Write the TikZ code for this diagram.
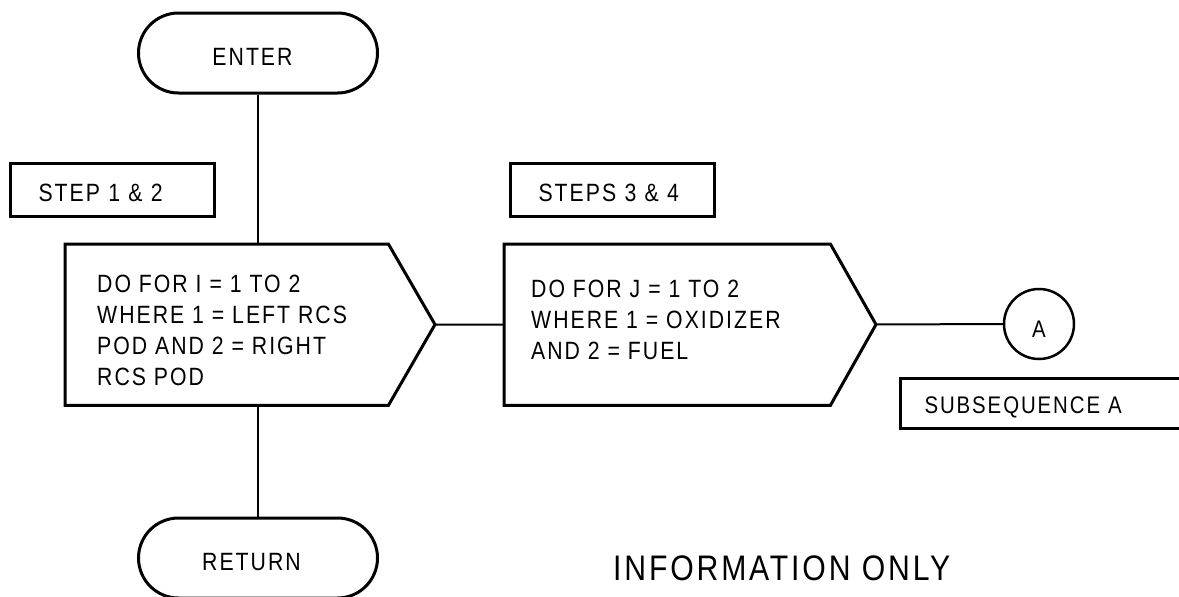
\documentclass[tikz,border=0pt]{standalone}
\usepackage{fontspec}
\setmainfont{Liberation Sans}[FakeStretch=0.85, LetterSpace=8]
\begin{document}
\begin{tikzpicture}[x=1pt,y=-1pt,
  shapeline/.style={line width=3pt},
  conn/.style={line width=2pt},
  term/.style={draw, shapeline, rounded corners=40pt, minimum width=239pt, minimum height=80pt,
    inner sep=0pt, font=\fontsize{25}{30}\selectfont, text height=24pt, text depth=0pt},
  labelbox/.style={draw, shapeline, anchor=north west, inner xsep=28pt, inner ysep=0pt,
    minimum height=53pt, text width=148pt, align=left,
    font=\fontsize{25}{30}\selectfont, text height=23pt, text depth=0pt},
  bodytext/.style={anchor=north west, align=left, inner sep=0pt, font=\fontsize{25}{31}\selectfont},
  pentabody/.style={inner sep=0pt, anchor=north west, minimum height=161pt}
]
\useasboundingbox (0,0) rectangle (1179,597);

% terminals
\node[term] (enter) at (258,53) {\hspace*{-11pt}ENTER};
\node[term] (ret) at (258,558) {\hspace*{-13pt}RETURN};

% step label boxes
\node[labelbox] (s12) at (9,162) {STEP 1 \& 2};
\node[labelbox] (s34) at (509,162) {STEPS 3 \& 4};

% pentagon 1
\node[pentabody, minimum width=323pt] (p1) at (65,244) {};
\coordinate (p1tip) at (435,324.5);
\draw[shapeline, line join=miter] (p1.north west) -- (p1.north east) -- (p1tip) -- (p1.south east) -- (p1.south west) -- cycle;
\node[bodytext] (t1) at (97,275) {DO FOR I = 1 TO 2\\WHERE 1 = LEFT RCS\\POD AND 2 = RIGHT\\RCS POD};

% pentagon 2
\node[pentabody, minimum width=326pt] (p2) at (504,244) {};
\coordinate (p2tip) at (876,324.5);
\draw[shapeline, line join=miter] (p2.north west) -- (p2.north east) -- (p2tip) -- (p2.south east) -- (p2.south west) -- cycle;
\node[bodytext] (t2) at (531,280) {DO FOR J = 1 TO 2\\WHERE 1 = OXIDIZER\\AND 2 = FUEL};

% connector circle
\node[draw, circle, line width=2.5pt, minimum size=70pt, inner sep=0pt,
  font=\fontsize{24}{28}\selectfont, text height=26pt, text depth=0pt] (a) at (1039,324) {A};

% subsequence box
\node[draw, shapeline, anchor=north west, inner xsep=24pt, inner ysep=0pt, minimum height=50pt,
  text width=243pt, align=left, font=\fontsize{24}{28}\selectfont, text height=20pt, text depth=0pt]
  (sub) at (899,377) {SUBSEQUENCE A};

% connectors
\draw[conn] (enter.south) -- (enter.south |- p1.north);
\draw[conn] (ret.north |- p1.south) -- (ret.north);
\draw[conn] (p1tip) -- (p2.west);
\draw[conn] (p2tip) -- (a.west);

% footer
\node[anchor=base west, inner sep=0pt, font=\fontsize{35.5}{40}\selectfont] (info) at (613,580) {INFORMATION ONLY};
\end{tikzpicture}
\end{document}
